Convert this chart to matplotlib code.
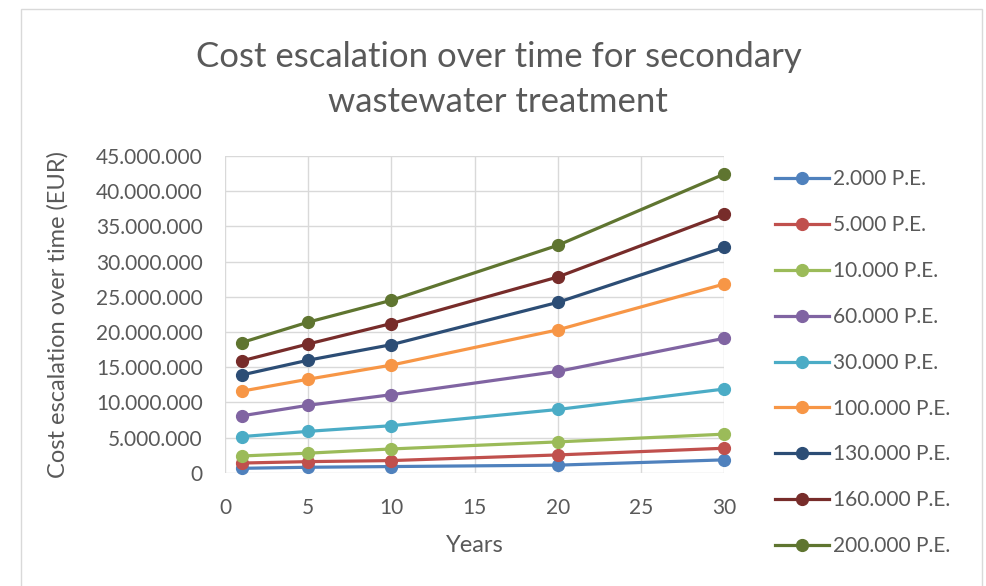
import numpy as np
import matplotlib
matplotlib.use("Agg")
import matplotlib.pyplot as plt
import matplotlib.ticker as mtick
from matplotlib.patches import Rectangle

plt.rcParams["font.family"] = ["Lato", "DejaVu Sans"]

# ── Data (EUR) ───────────────────────────────────────────────────────────────
years = [1, 5, 10, 20, 30]
labels = ["2.000 P.E.", "5.000 P.E.", "10.000 P.E.", "60.000 P.E.", "30.000 P.E.",
          "100.000 P.E.", "130.000 P.E.", "160.000 P.E.", "200.000 P.E."]
pe_2000 = [650_000, 800_000, 900_000, 1_100_000, 1_850_000]
pe_5000 = [1_400_000, 1_600_000, 1_750_000, 2_550_000, 3_500_000]
pe_10000 = [2_400_000, 2_800_000, 3_400_000, 4_400_000, 5_500_000]
pe_60000 = [8_100_000, 9_600_000, 11_100_000, 14_400_000, 19_100_000]
pe_30000 = [5_150_000, 5_900_000, 6_700_000, 9_000_000, 11_900_000]
pe_100000 = [11_600_000, 13_300_000, 15_300_000, 20_300_000, 26_800_000]
pe_130000 = [13_900_000, 16_000_000, 18_200_000, 24_200_000, 32_000_000]
pe_160000 = [15_900_000, 18_300_000, 21_200_000, 27_800_000, 36_700_000]
pe_200000 = [18_500_000, 21_400_000, 24_500_000, 32_300_000, 42_400_000]
series = [pe_2000, pe_5000, pe_10000, pe_60000, pe_30000,
          pe_100000, pe_130000, pe_160000, pe_200000]

colors = ["#4F81BD", "#C0504D", "#9BBB59", "#8064A2", "#4BACC6",
          "#F79646", "#2C4D75", "#772C2A", "#5F7530"]
text_col = "#595959"

fig = plt.figure(figsize=(9.87, 5.86), dpi=100)
fig.patches.append(Rectangle((0.021, -0.02), 0.974, 1.005, transform=fig.transFigure,
                             fill=False, edgecolor="#d9d9d9", linewidth=1.0))

ax = fig.add_axes([0.228, 0.193, 0.5055, 0.541])
for vals, lab, c in zip(series, labels, colors):
    ax.plot(years, vals, color=c, linewidth=2.3, marker="o", markersize=8.5,
            label=lab, clip_on=False, zorder=3)

ax.set_xlim(0, 30)
ax.set_ylim(0, 45_000_000)
ax.set_xticks(range(0, 31, 5))
ax.set_yticks(range(0, 45_000_001, 5_000_000))
ax.yaxis.set_major_formatter(mtick.FuncFormatter(lambda v, p: f"{v:,.0f}".replace(",", ".")))
ax.grid(True, color="#d9d9d9", linewidth=1.0)
ax.set_axisbelow(True)
for s in ax.spines.values():
    s.set_visible(False)
ax.tick_params(length=0, labelsize=15, colors=text_col)
ax.tick_params(axis="y", pad=16)
ax.tick_params(axis="x", pad=18)

ax.set_xlabel("Years", fontsize=17, color=text_col, labelpad=12)
ax.set_ylabel("Cost escalation over time (EUR)", fontsize=17, color=text_col, labelpad=20)

fig.text(0.505, 0.865, "Cost escalation over time for secondary\nwastewater treatment",
         ha="center", va="center", fontsize=25, color=text_col, linespacing=1.5)

fig.legend(loc="upper left", bbox_to_anchor=(0.777, 0.725), frameon=False,
           fontsize=15, handlelength=2.6, handletextpad=0.15, labelspacing=1.24,
           labelcolor=text_col, borderaxespad=0)

fig.savefig("out.png", dpi=100)
